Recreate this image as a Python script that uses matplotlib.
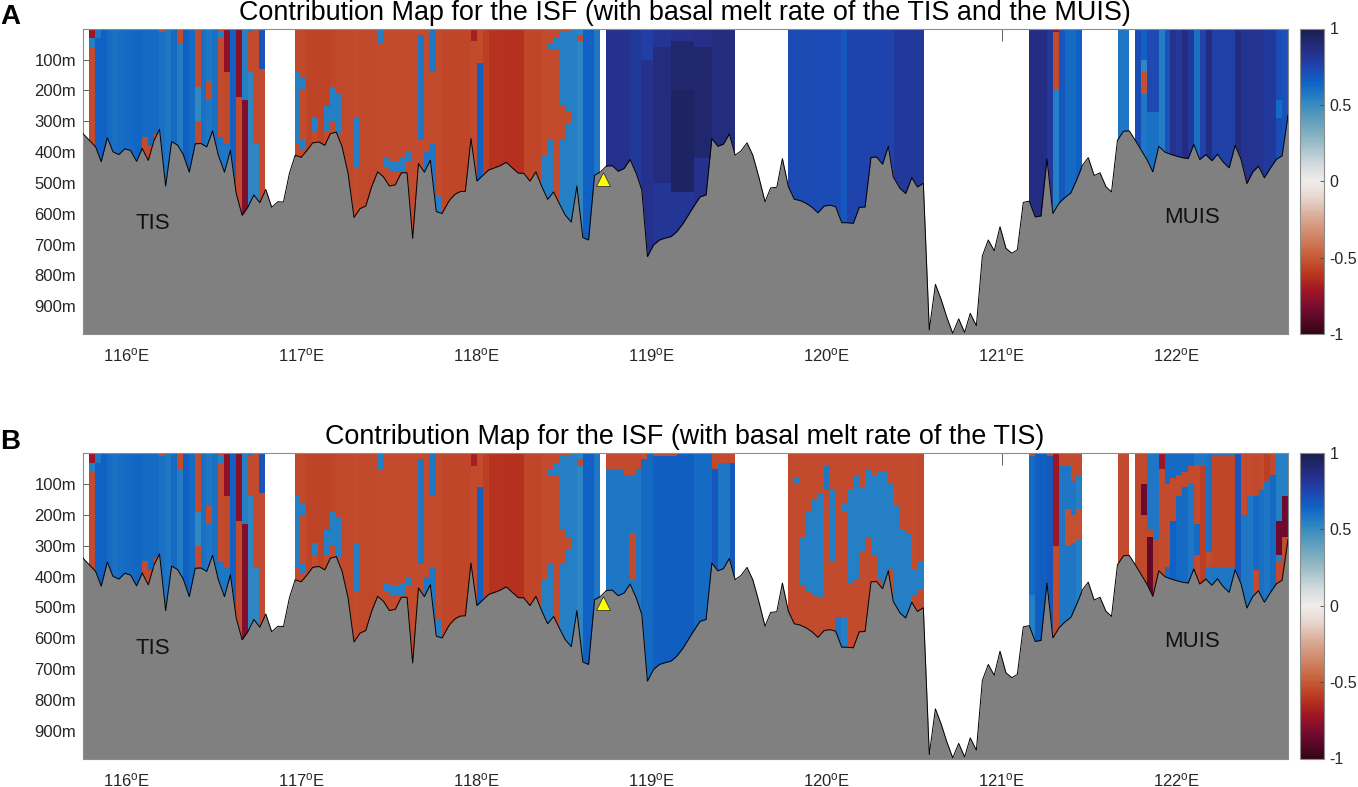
# Ice shelf front contribution maps, panels A and B

import numpy as np
import matplotlib
matplotlib.use("Agg")
import matplotlib.pyplot as plt
from matplotlib.colors import LinearSegmentedColormap

plt.rcParams["font.family"] = ["Liberation Sans", "DejaVu Sans"]
plt.rcParams["mathtext.default"] = "regular"

# Colormap stops
cbar_stops = [-1, -0.85, -0.72, -0.62, -0.5, -0.4, -0.25, -0.1, 0, 0.1, 0.3, 0.5, 0.55, 0.65, 0.75, 0.85, 1]
cbar_colors = ["#350515", "#6e0a30", "#a01525", "#b8331e", "#c65a35", "#cd7a58", "#d8a690", "#e8d8d2", "#f0ecea",
               "#d6dcdf", "#86b2c0", "#3a8cbc", "#2680c4", "#0f62c4", "#1f45b0", "#252f8a", "#1a1f4e"]

# Ice draft along the front
front_lon = [115.753, 115.825, 115.857, 115.892, 115.924, 115.958, 115.992, 116.025, 116.059, 116.091, 116.126,
             116.158, 116.19, 116.225, 116.259, 116.293, 116.325, 116.36, 116.394, 116.426, 116.46, 116.493,
             116.526, 116.561, 116.595, 116.628, 116.662, 116.696, 116.729, 116.763, 116.797, 116.831, 116.866,
             116.898, 116.932, 116.965, 116.999, 117.033, 117.065, 117.10, 117.134, 117.166, 117.20, 117.233,
             117.267, 117.301, 117.336, 117.368, 117.402, 117.436, 117.469, 117.503, 117.537, 117.571, 117.604,
             117.636, 117.669, 117.703, 117.737, 117.771, 117.804, 117.838, 117.851, 117.88, 117.908, 117.937,
             117.969, 118.003, 118.036, 118.07, 118.104, 118.136, 118.171, 118.205, 118.239, 118.271, 118.306,
             118.34, 118.374, 118.407, 118.441, 118.473, 118.507, 118.542, 118.574, 118.608, 118.641, 118.675,
             118.709, 118.743, 118.776, 118.81, 118.844, 118.878, 118.913, 118.945, 118.977, 119.012, 119.046,
             119.078, 119.112, 119.145, 119.179, 119.211, 119.246, 119.278, 119.312, 119.345, 119.379, 119.411,
             119.445, 119.478, 119.512, 119.546, 119.579, 119.613, 119.649, 119.681, 119.716, 119.748, 119.782,
             119.816, 119.849, 119.883, 119.917, 119.951, 119.986, 120.02, 120.052, 120.087, 120.121, 120.153,
             120.187, 120.22, 120.254, 120.286, 120.32, 120.353, 120.381, 120.42, 120.452, 120.487, 120.519,
             120.553, 120.587, 120.622, 120.656, 120.686, 120.721, 120.755, 120.789, 120.821, 120.856, 120.89,
             120.924, 120.958, 120.991, 121.025, 121.059, 121.09, 121.124, 121.158, 121.192, 121.225, 121.259,
             121.293, 121.328, 121.362, 121.396, 121.428, 121.463, 121.495, 121.529, 121.562, 121.596, 121.628,
             121.662, 121.697, 121.729, 121.763, 121.798, 121.832, 121.864, 121.898, 121.933, 121.965, 121.999,
             122.033, 122.066, 122.098, 122.132, 122.167, 122.201, 122.233, 122.265, 122.3, 122.334, 122.368,
             122.401, 122.435, 122.467, 122.501, 122.536, 122.57, 122.602, 122.636]
front_depth = [340, 383, 431, 353, 399, 408, 389, 395, 430, 388, 427, 363, 326, 510, 366, 377, 407, 465, 373, 372,
               383, 331, 410, 465, 394, 534, 605, 577, 539, 564, 521, 579, 561, 562, 469, 410, 417, 394, 370, 367,
               378, 340, 335, 383, 469, 612, 583, 575, 512, 464, 480, 510, 506, 467, 467, 680, 437, 465, 426, 593,
               599, 564, 553, 536, 528, 527, 356, 494, 476, 458, 451, 444, 433, 451, 468, 469, 494, 464, 512, 553,
               529, 566, 604, 627, 510, 677, 685, 475, 464, 445, 444, 462, 453, 424, 469, 523, 739, 701, 685, 679,
               674, 658, 633, 604, 572, 545, 539, 356, 381, 374, 341, 410, 396, 370, 410, 480, 561, 516, 514, 421,
               512, 553, 557, 566, 579, 597, 575, 572, 577, 629, 629, 631, 579, 578, 417, 416, 439, 381, 480, 518,
               534, 483, 513, 501, 977, 829, 880, 934, 988, 941, 985, 923, 963, 737, 685, 720, 642, 712, 728, 717,
               563, 559, 610, 607, 421, 599, 566, 547, 532, 491, 442, 418, 476, 467, 512, 529, 361, 332, 331, 361,
               394, 426, 464, 381, 400, 407, 413, 418, 421, 375, 424, 408, 428, 407, 432, 451, 378, 424, 502, 464,
               446, 483, 451, 423, 412, 280]

# Runs of model columns: first column, end column, values going down, depths where the value changes
west_runs = [
    (1, 2, [-0.72, 0.55, -0.54], [30, 58]),
    (2, 3, [0.58, 0.65], [30]),
    (3, 4, [0.65], []),
    (4, 5, [0.62], []),
    (5, 6, [0.6], []),
    (6, 7, [0.61], []),
    (7, 8, [0.62], []),
    (8, 9, [0.63], []),
    (9, 10, [0.64], []),
    (10, 11, [0.62, -0.54], [354]),
    (11, 12, [0.62, -0.54], [375]),
    (12, 13, [0.62, -0.54], [335]),
    (13, 14, [-0.54, 0.6], [12]),
    (14, 15, [0.58], []),
    (15, 16, [0.62], []),
    (16, 17, [-0.54, 0.56], [46]),
    (17, 18, [0.66], []),
    (18, 19, [0.62], []),
    (19, 20, [-0.54, 0.52, -0.54, 0.62], [185, 295, 370]),
    (20, 21, [0.6], []),
    (21, 22, [0.58, -0.54, 0.58], [165, 230]),
    (22, 23, [0.6], []),
    (23, 24, [-0.54, 0.55, -0.54, 0.58], [10, 30, 345]),
    (24, 25, [-0.76, -0.55, 0.58], [135, 372]),
    (25, 26, [0.65], []),
    (26, 27, [-0.78, -0.54], [220]),
    (27, 28, [0.55, -0.8], [230]),
    (28, 29, [0.58, -0.54, 0.53], [14, 138]),
    (29, 30, [-0.54, 0.53], [370]),
    (30, 31, [0.7, -0.54], [130]),
    (36, 37, [-0.55, 0.55, -0.54], [140, 370]),
    (37, 38, [-0.55, 0.55, -0.54, 0.55, -0.54], [157, 203, 360, 390]),
    (38, 39, [-0.57], []),
    (39, 40, [-0.57, 0.55, -0.54], [290, 332]),
    (40, 41, [-0.57], []),
    (41, 42, [-0.57, 0.55, -0.54], [252, 332]),
    (42, 43, [-0.56, 0.55, -0.54], [185, 295]),
    (43, 44, [-0.55, 0.55, -0.54], [214, 338]),
    (44, 46, [-0.55], []),
    (46, 47, [-0.54, 0.55, -0.54], [293, 446]),
    (47, 50, [-0.55], []),
    (50, 51, [0.55, -0.54], [46]),
    (51, 52, [-0.54, 0.55, -0.54], [415, 452]),
    (52, 54, [-0.54, 0.55, -0.54], [433, 460]),
    (54, 55, [-0.54, 0.55, -0.54], [417, 460]),
    (55, 56, [-0.54, 0.55, -0.54], [397, 430]),
    (56, 57, [-0.54], []),
    (57, 58, [-0.54, 0.58, -0.54], [20, 360]),
    (58, 59, [-0.54, 0.58, -0.54], [403, 460]),
    (59, 60, [0.58, -0.54, 0.58], [143, 370]),
    (60, 61, [-0.54, 0.55], [543]),
    (61, 66, [-0.56], []),
    (66, 67, [-0.68, -0.54], [40]),
    (67, 68, [-0.54, 0.65], [106]),
    (68, 69, [-0.58], []),
    (69, 72, [-0.62], []),
    (72, 75, [-0.63], []),
    (75, 78, [-0.56], []),
    (78, 79, [-0.54, 0.55], [408]),
    (79, 80, [-0.54, 0.55, -0.54, 0.55], [46, 68, 360]),
    (80, 81, [-0.54, 0.55, -0.54], [25, 68]),
    (81, 82, [-0.54, 0.55, -0.54, 0.55], [13, 252, 360]),
    (82, 83, [-0.54, 0.55, -0.54, 0.55], [9, 268, 306]),
    (83, 84, [0.55], []),
    (84, 85, [0.53, -0.54, 0.53], [20, 41]),
    (85, 87, [0.65], []),
    (87, 88, [0.58], []),
]

# Panel A, east of the gap at column 88
east_runs_a = [
    (89, 93, [0.84], []),
    (93, 95, [0.8], []),
    (95, 97, [0.78, 0.84], [100]),
    (97, 100, [0.82, 0.88, 0.82], [60, 500]),
    (100, 104, [0.84, 0.92, 0.95, 0.82], [40, 200, 530]),
    (104, 107, [0.85, 0.92, 0.84], [60, 420]),
    (107, 111, [0.88], []),
    (120, 124, [0.73], []),
    (124, 129, [0.72], []),
    (129, 130, [0.68], []),
    (130, 138, [0.75], []),
    (138, 143, [0.8], []),
    (161, 164, [0.86], []),
    (164, 165, [0.8], []),
    (165, 166, [-0.75, -0.54, 0.55], [9, 203]),
    (166, 167, [0.68], []),
    (167, 169, [0.62], []),
    (169, 170, [0.65], []),
    (176, 178, [0.58], []),
    (179, 180, [0.72], []),
    (180, 181, [0.65, 0.52, -0.53, 0.58], [100, 138, 208]),
    (181, 183, [0.74, 0.6], [270]),
    (183, 184, [0.56], []),
    (184, 185, [0.7], []),
    (185, 186, [0.84], []),
    (186, 187, [0.8], []),
    (187, 188, [0.87], []),
    (188, 189, [0.8], []),
    (189, 190, [0.6], []),
    (190, 191, [0.76], []),
    (191, 192, [0.87], []),
    (192, 196, [0.77], []),
    (196, 197, [0.88], []),
    (197, 201, [0.83], []),
    (201, 203, [0.8], []),
    (203, 204, [0.72, 0.62, 0.72], [230, 285]),
    (204, 205, [0.7], []),
]

# Panel B, east of the gap at column 88
east_runs_b = [
    (89, 92, [-0.54, 0.58], [46]),
    (92, 93, [-0.54, 0.58], [73]),
    (93, 94, [-0.54, 0.58, -0.54, 0.58], [73, 258, 410]),
    (94, 95, [-0.54, 0.58], [46]),
    (95, 96, [-0.53, 0.62], [20]),
    (96, 97, [0.62], []),
    (97, 101, [-0.54, 0.66], [14]),
    (101, 104, [0.66], []),
    (104, 107, [0.62], []),
    (107, 108, [-0.55, 0.68], [46]),
    (108, 110, [-0.54, 0.58], [30]),
    (110, 111, [-0.54, 0.68], [30]),
    (120, 121, [-0.54], []),
    (121, 122, [-0.54, 0.55, -0.54], [84, 100]),
    (122, 123, [-0.54, 0.55, -0.54], [273, 425]),
    (123, 124, [-0.54, 0.55, -0.54], [192, 446]),
    (124, 125, [-0.54, 0.55, -0.54], [150, 457]),
    (125, 126, [-0.54, 0.55, -0.54], [128, 468]),
    (126, 127, [-0.54, 0.58, -0.54], [41, 122]),
    (127, 128, [-0.54, 0.55, -0.54], [122, 348]),
    (128, 129, [-0.54, 0.58], [527]),
    (129, 130, [-0.54, 0.55, -0.54, 0.55], [160, 187, 532]),
    (130, 131, [-0.54, 0.55, -0.54], [117, 419]),
    (131, 132, [-0.54, 0.55, -0.54], [73, 413]),
    (132, 133, [-0.54, 0.55, -0.54], [106, 316]),
    (133, 134, [-0.54, 0.55, -0.54], [46, 273]),
    (134, 135, [-0.54, 0.55, -0.54], [68, 327]),
    (135, 136, [-0.54, 0.55, -0.54], [57, 408]),
    (136, 137, [-0.54, 0.55, -0.54], [57, 425]),
    (137, 138, [-0.54, 0.55, -0.54], [100, 381]),
    (138, 139, [-0.54, 0.55], [165]),
    (139, 140, [-0.54, 0.55], [252]),
    (140, 141, [-0.54, 0.55], [257]),
    (141, 142, [-0.54, 0.55, -0.54], [381, 463]),
    (142, 143, [-0.55, 0.55, -0.54], [348, 440]),
    (161, 162, [-0.54, 0.62, 0.55], [14, 459]),
    (162, 164, [0.66], []),
    (164, 165, [-0.54, 0.68], [14]),
    (165, 166, [-0.72, -0.54], [300]),
    (166, 167, [-0.54, 0.58], [41]),
    (167, 168, [-0.54, 0.58, -0.53, 0.58], [41, 181, 296]),
    (168, 169, [-0.54, 0.58, -0.53, 0.58], [90, 197, 290]),
    (169, 170, [-0.54, 0.55, -0.53, 0.55], [68, 176, 278]),
    (176, 178, [-0.54], []),
    (179, 180, [-0.55], []),
    (180, 181, [-0.55, -0.85, -0.55], [100, 203]),
    (181, 182, [0.58, -0.55, -0.88], [252, 273]),
    (182, 183, [0.58, -0.55], [284]),
    (183, 184, [-0.72, -0.54], [46]),
    (184, 185, [0.62, -0.54, 0.62], [100, 370]),
    (185, 186, [0.62, -0.54, 0.65], [84, 219]),
    (186, 187, [0.62, -0.54, 0.62], [73, 138]),
    (187, 188, [0.62, -0.54, 0.62], [63, 106]),
    (188, 189, [0.62, -0.54, 0.58], [41, 100]),
    (189, 190, [0.58, -0.54, 0.62, -0.54], [41, 230, 330]),
    (190, 191, [0.58, -0.58], [35]),
    (191, 192, [0.6, -0.54, 0.58], [316, 370]),
    (192, 196, [0.58, -0.56, 0.58], [14, 370]),
    (196, 197, [0.68], []),
    (197, 198, [-0.54, 0.58], [197]),
    (198, 199, [-0.54, 0.58], [144]),
    (199, 200, [-0.55, 0.62, -0.54], [144, 380]),
    (200, 201, [-0.54, 0.6], [117]),
    (201, 202, [-0.58, 0.58], [90]),
    (202, 203, [-0.55, 0.62], [73]),
    (203, 204, [0.55, -0.85, 0.55, -0.54], [224, 327, 348]),
    (204, 205, [0.55, -0.85, -0.54], [138, 273]),
]

depth_ticks = [100, 200, 300, 400, 500, 600, 700, 800, 900]
depth_labels = ["100m", "200m", "300m", "400m", "500m", "600m", "700m", "800m", "900m"]
lon_ticks = [116, 117, 118, 119, 120, 121, 122]
lon_labels = [str(v) + "$^{o}$E" for v in lon_ticks]
cbar_ticks = [-1, -0.5, 0, 0.5, 1]
cbar_labels = ["-1", "-0.5", "0", "0.5", "1"]

titles = ["Contribution Map for the ISF (with basal melt rate of the TIS and the MUIS)",
          "Contribution Map for the ISF (with basal melt rate of the TIS)"]
letters = ["A", "B"]

W, H = 1358, 787
n_cols = 205
lon_edges = np.linspace(front_lon[0], front_lon[-1], n_cols + 1)
depth_edges = np.arange(0, 1001, 10.0)
depth_mid = (depth_edges[:-1] + depth_edges[1:]) / 2

cmap = LinearSegmentedColormap.from_list(
    "contrib", [((s + 1) / 2, c) for s, c in zip(cbar_stops, cbar_colors)], N=256)
text_color = "#262626"
edge_color = "#8c8c8c"


def build_field(runs):
    field = np.full((len(depth_mid), n_cols), np.nan)
    for first, end, values, breaks in runs:
        idx = np.searchsorted(breaks, depth_mid)
        field[:, first:end] = np.array(values)[idx][:, None]
    return field


def pixel_axes(left, top, right, bottom):
    return fig.add_axes([left / W, 1 - bottom / H, (right - left) / W, (bottom - top) / H])


fig = plt.figure(figsize=(W / 100, H / 100), dpi=100)

panels = [(28.5, 334, west_runs + east_runs_a), (453, 758.5, west_runs + east_runs_b)]
for k, (top, bottom, runs) in enumerate(panels):
    ax = pixel_axes(83, top, 1288, bottom)
    ax.set_axisbelow(True)
    mesh = ax.pcolormesh(lon_edges, depth_edges, build_field(runs), cmap=cmap, vmin=-1, vmax=1)
    ax.fill_between(front_lon, front_depth, 1000, color="#808080", lw=0, zorder=2)
    ax.plot(front_lon, front_depth, color="black", lw=0.7, zorder=3)
    ax.plot([118.722], [487], marker="^", ms=10.5, mfc="#ffff00", mec="#333333", mew=0.6, ls="none", zorder=4)
    ax.text(116.15, 632, "TIS", fontsize=16, ha="center", va="center", color="#111111", zorder=5)
    ax.text(122.09, 612, "MUIS", fontsize=16, ha="center", va="center", color="#111111", zorder=5)

    ax.set_xlim(front_lon[0], front_lon[-1])
    ax.set_ylim(990, -1)
    ax.set_xticks(lon_ticks, lon_labels)
    ax.set_yticks(depth_ticks, depth_labels)
    ax.tick_params(direction="in", top=True, right=True, length=8.5, width=0.6, color="#444444",
                   labelcolor=text_color, labelsize=12)
    ax.tick_params(axis="x", pad=9)
    ax.tick_params(axis="y", pad=5)
    for s in ax.spines.values():
        s.set_color(edge_color)
        s.set_linewidth(0.8)
    fig.text(685 / W, 1 - (top - 16) / H, titles[k], fontsize=19.4, ha="center", va="center", color="black")
    fig.text(0.5 / W, 1 - (top - 11) / H, letters[k], fontsize=20, fontweight="bold", ha="left", va="center")

    cax = pixel_axes(1300, top, 1324, bottom)
    cb = fig.colorbar(mesh, cax=cax)
    cb.set_ticks(cbar_ticks, labels=cbar_labels)
    cax.tick_params(direction="in", length=3, width=0.6, color="#444444", labelcolor=text_color,
                    labelsize=11.5, pad=4)
    cb.outline.set_edgecolor(edge_color)
    cb.outline.set_linewidth(0.8)

fig.savefig("out.png", dpi=100)
